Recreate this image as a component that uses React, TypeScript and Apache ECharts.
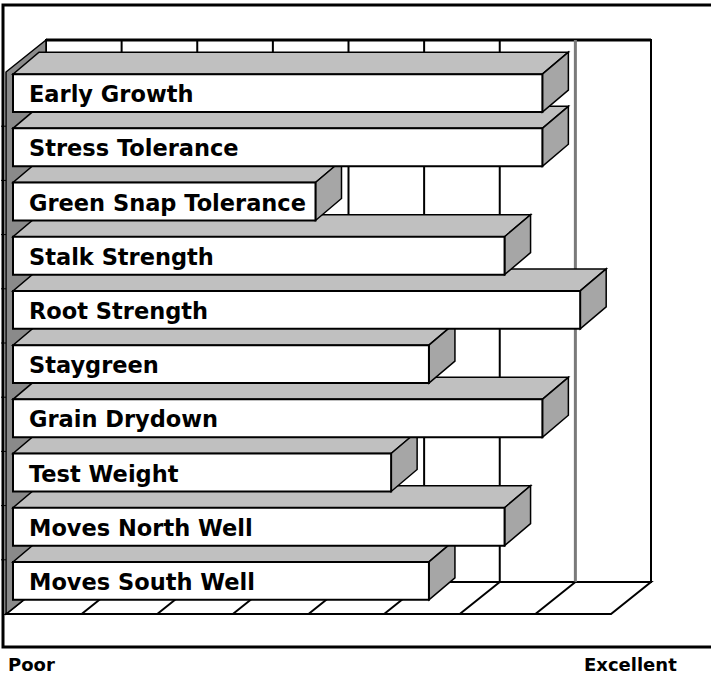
import React, { useEffect, useRef } from "react";
import * as echarts from "echarts";

const categories = [
  "Early Growth",
  "Stress Tolerance",
  "Green Snap Tolerance",
  "Stalk Strength",
  "Root Strength",
  "Staygreen",
  "Grain Drydown",
  "Test Weight",
  "Moves North Well",
  "Moves South Well",
];
const ratings = [7, 7, 4, 6.5, 7.5, 5.5, 7, 5, 6.5, 5.5];
const gridTicks = [0, 1, 2, 3, 4, 5, 6, 7, 8];
const axisLabels = ["Poor", "Excellent"];

const AXIS_MIN = 0;
const AXIS_MAX = 8;
// projection offsets (pixels) relative to the bar front plane
const FRONT = [-7, 6];
const BACK = [33, -26];
const BAR_DEPTH = [26, -22];

export default function App() {
  const ref = useRef<HTMLDivElement>(null);
  useEffect(() => {
    document.body.style.margin = "0";
    const chart = echarts.init(ref.current!, null, { renderer: "svg" });
    const n = categories.length;

    const extent = (api: any) => {
      const band = api.size([0, 1])[1];
      const top = api.coord([AXIS_MIN, 0])[1] - band / 2;
      const bot = api.coord([AXIS_MIN, n - 1])[1] + band / 2;
      const x0 = api.coord([AXIS_MIN, 0])[0];
      const x1 = api.coord([AXIS_MAX, 0])[0];
      return { band, top, bot, x0, x1 };
    };

    const panels = (params: any, api: any) => {
      const { band, top, bot, x0, x1 } = extent(api);
      const f = (x: number, y: number) => [x + FRONT[0], y + FRONT[1]];
      const b = (x: number, y: number) => [x + BACK[0], y + BACK[1]];
      const children: any[] = [
        {
          type: "polygon",
          shape: { points: [b(x0, top), b(x1, top), b(x1, bot), b(x0, bot)] },
          style: { fill: "#ffffff", stroke: "#000", lineWidth: 2 },
        },
        {
          type: "line",
          shape: { x1: b(x0, top)[0], y1: b(x0, top)[1], x2: b(x1, top)[0], y2: b(x1, top)[1] },
          style: { stroke: "#000", lineWidth: 3 },
        },
        {
          type: "polygon",
          shape: { points: [f(x0, bot), f(x1, bot), b(x1, bot), b(x0, bot)] },
          style: { fill: "#ffffff", stroke: "#000", lineWidth: 2 },
        },
        {
          type: "polygon",
          shape: { points: [f(x0, top), b(x0, top), b(x0, bot), f(x0, bot)] },
          style: { fill: "#8a8a8a", stroke: "#000", lineWidth: 1.5 },
        },
      ];
      for (let i = 1; i < n; i++) {
        const y = top + band * i + FRONT[1];
        children.push({
          type: "line",
          shape: { x1: x0 + FRONT[0] - 5, y1: y, x2: x0 + FRONT[0], y2: y },
          style: { stroke: "#000", lineWidth: 1 },
        });
      }
      return { type: "group", children };
    };

    const gridlines = (params: any, api: any) => {
      const { top, bot } = extent(api);
      const v = api.value(0);
      const x = api.coord([v, 0])[0];
      const special = v === 7;
      return {
        type: "group",
        children: [
          {
            type: "line",
            shape: { x1: x + BACK[0], y1: top + BACK[1], x2: x + BACK[0], y2: bot + BACK[1] },
            style: { stroke: special ? "#7a7a7a" : "#000", lineWidth: special ? 3 : 2 },
          },
          {
            type: "line",
            shape: { x1: x + FRONT[0], y1: bot + FRONT[1], x2: x + BACK[0], y2: bot + BACK[1] },
            style: { stroke: "#000", lineWidth: 2 },
          },
        ],
      };
    };

    const bars = (params: any, api: any) => {
      const v = api.value(0);
      const idx = api.value(1);
      const p0 = api.coord([AXIS_MIN, idx]);
      const p1 = api.coord([v, idx]);
      const band = api.size([0, 1])[1];
      const h = band * 0.7;
      const xa = p0[0];
      const xb = p1[0];
      const yT = p0[1] - h / 2;
      const yB = p0[1] + h / 2;
      const [dx, dy] = BAR_DEPTH;
      return {
        type: "group",
        children: [
          {
            type: "polygon",
            shape: { points: [[xa, yT], [xb, yT], [xb + dx, yT + dy], [xa + dx, yT + dy]] },
            style: { fill: "#c0c0c0", stroke: "#000", lineWidth: 1.5 },
          },
          {
            type: "polygon",
            shape: { points: [[xb, yT], [xb + dx, yT + dy], [xb + dx, yB + dy], [xb, yB]] },
            style: { fill: "#a6a6a6", stroke: "#000", lineWidth: 1.5 },
          },
          {
            type: "rect",
            shape: { x: xa, y: yT, width: xb - xa, height: h },
            style: { fill: "#ffffff", stroke: "#000", lineWidth: 2 },
          },
          {
            type: "text",
            x: xa + 16,
            y: p0[1] + 1,
            style: {
              text: categories[idx],
              fontFamily: "DejaVu Sans",
              fontWeight: "bold",
              fontSize: 22.5,
              fill: "#000",
              align: "left",
              verticalAlign: "middle",
            },
          },
        ],
      };
    };

    const barData = categories.map((c, i) => [ratings[i], i]).reverse();

    chart.setOption({
      animation: false,
      grid: { left: 13, right: 93, top: 66, bottom: 68 },
      xAxis: { type: "value", min: AXIS_MIN, max: AXIS_MAX, interval: 1, show: false },
      yAxis: { type: "category", data: categories, inverse: true, show: false },
      graphic: [
        {
          type: "rect",
          shape: { x: 3, y: 5, width: 760, height: 642 },
          style: { fill: "none", stroke: "#000", lineWidth: 3 },
          z: 100,
        },
        {
          type: "text",
          left: 8,
          top: 655,
          style: {
            text: axisLabels[0],
            fontFamily: "DejaVu Sans",
            fontWeight: "bold",
            fontSize: 18,
            fill: "#000",
          },
        },
        {
          type: "text",
          left: 584,
          top: 655,
          style: {
            text: axisLabels[1],
            fontFamily: "DejaVu Sans",
            fontWeight: "bold",
            fontSize: 18,
            fill: "#000",
          },
        },
      ],
      series: [
        {
          type: "custom",
          z: 1,
          data: [[AXIS_MIN, 0]],
          encode: { x: 0, y: 1 },
          renderItem: panels,
          silent: true,
        },
        {
          type: "custom",
          z: 2,
          data: gridTicks.filter((t) => t > AXIS_MIN && t < AXIS_MAX).map((t) => [t, 0]),
          encode: { x: 0, y: 1 },
          renderItem: gridlines,
          silent: true,
        },
        {
          type: "custom",
          z: 3,
          data: barData,
          encode: { x: 0, y: 1 },
          renderItem: bars,
        },
      ],
    });
    return () => chart.dispose();
  }, []);
  return <div ref={ref} style={{ width: 711, height: 676 }} />;
}
